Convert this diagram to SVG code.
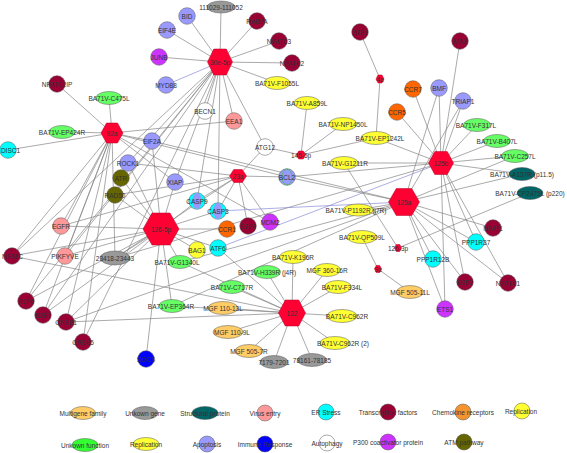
<svg xmlns="http://www.w3.org/2000/svg" width="567" height="453" viewBox="0 0 567 453">
<style>
.e line{stroke:#858585;stroke-width:0.7}
.e line.b{stroke:#8a8ad8}
.hub{fill:#FF0033;stroke:#b30024;stroke-width:0.5}
.c{stroke:#555;stroke-width:0.5}
.dr{fill:#990033}.lav{fill:#9999FF}.mag{fill:#CC33FF}.cy{fill:#00FFFF}.or{fill:#FF6600}.mgf{fill:#FFCC66}.gr{fill:#999999}.gn{fill:#66FF66}.ye{fill:#FFFF33}.tl{fill:#006666}.sa{fill:#FF9999}.bl{fill:#0000FF}.ol{fill:#666600}.wh{fill:#FFFFFF}.co{fill:#F39430}.lg{fill:#33FF33}
text{font-family:"Liberation Sans",Arial,sans-serif;font-size:6.5px;fill:#333;text-anchor:middle;dominant-baseline:central}
</style>
<rect width="567" height="453" fill="#fff"/>
<g id="connectors" class="e">
<line x1="220" y1="62" x2="187" y2="16"/><line x1="220" y1="62" x2="221" y2="7"/><line x1="220" y1="62" x2="257" y2="21"/><line x1="220" y1="62" x2="279" y2="41"/><line x1="220" y1="62" x2="292" y2="63"/><line x1="220" y1="62" x2="277" y2="83"/><line x1="220" y1="62" x2="167" y2="30"/><line x1="220" y1="62" x2="159" y2="57"/><line class="b" x1="220" y1="62" x2="166" y2="85"/><line x1="220" y1="62" x2="205" y2="111"/><line x1="220" y1="62" x2="234" y2="121"/><line x1="220" y1="62" x2="265" y2="147"/><line x1="220" y1="62" x2="218" y2="211"/><line x1="220" y1="62" x2="197" y2="201"/><line x1="220" y1="62" x2="175" y2="182"/><line x1="220" y1="62" x2="12" y2="256"/><line x1="220" y1="62" x2="65" y2="256"/><line x1="220" y1="62" x2="26" y2="301"/><line x1="220" y1="62" x2="43" y2="315"/><line x1="220" y1="62" x2="83" y2="342"/><line x1="220" y1="62" x2="128" y2="163"/>
<line x1="112" y1="133" x2="62" y2="132"/><line x1="112" y1="133" x2="8" y2="150"/><line x1="112" y1="133" x2="109" y2="98"/><line x1="112" y1="133" x2="57" y2="84"/><line x1="112" y1="133" x2="152" y2="141"/><line x1="112" y1="133" x2="234" y2="121"/><line x1="112" y1="133" x2="12" y2="256"/><line x1="112" y1="133" x2="26" y2="301"/><line x1="112" y1="133" x2="43" y2="315"/><line x1="112" y1="133" x2="66" y2="322"/><line x1="112" y1="133" x2="83" y2="342"/><line x1="112" y1="133" x2="65" y2="256"/><line x1="112" y1="133" x2="61" y2="226"/><line x1="112" y1="133" x2="287" y2="177"/><line x1="112" y1="133" x2="175" y2="182"/><line x1="112" y1="133" x2="270" y2="222"/><line x1="112" y1="133" x2="115" y2="258"/>
<line x1="161" y1="229" x2="61" y2="226"/><line x1="161" y1="229" x2="65" y2="256"/><line x1="161" y1="229" x2="12" y2="256"/><line x1="161" y1="229" x2="115" y2="258"/><line x1="161" y1="229" x2="180" y2="262"/><line x1="161" y1="229" x2="172" y2="306"/><line x1="161" y1="229" x2="146" y2="359"/><line x1="161" y1="229" x2="66" y2="322"/><line x1="161" y1="229" x2="43" y2="315"/><line x1="161" y1="229" x2="26" y2="301"/><line x1="161" y1="229" x2="115" y2="195"/><line x1="161" y1="229" x2="121" y2="178"/><line x1="161" y1="229" x2="128" y2="163"/><line x1="161" y1="229" x2="175" y2="182"/><line x1="161" y1="229" x2="152" y2="141"/><line x1="161" y1="229" x2="197" y2="250"/><line x1="161" y1="229" x2="218" y2="248"/><line x1="161" y1="229" x2="197" y2="201"/><line x1="161" y1="229" x2="227" y2="229"/><line x1="161" y1="229" x2="218" y2="211"/>
<line x1="238" y1="176" x2="265" y2="147"/><line x1="238" y1="176" x2="287" y2="177"/><line x1="238" y1="176" x2="197" y2="201"/><line x1="238" y1="176" x2="218" y2="211"/><line x1="238" y1="176" x2="248" y2="226"/><line x1="238" y1="176" x2="270" y2="222"/><line x1="238" y1="176" x2="128" y2="163"/><line x1="238" y1="176" x2="115" y2="195"/><line x1="238" y1="176" x2="115" y2="258"/><line x1="238" y1="176" x2="61" y2="226"/>
<line x1="301" y1="155" x2="265" y2="147"/><line x1="301" y1="155" x2="307" y2="103"/><line x1="301" y1="155" x2="343" y2="124"/><line x1="301" y1="155" x2="376" y2="138"/>
<line x1="380" y1="79" x2="360" y2="32"/><line x1="380" y1="79" x2="376" y2="138"/>
<line x1="441" y1="163" x2="460" y2="41"/><line x1="441" y1="163" x2="413" y2="89"/><line x1="441" y1="163" x2="397" y2="112"/><line x1="441" y1="163" x2="439" y2="88"/><line x1="441" y1="163" x2="463" y2="101"/><line x1="441" y1="163" x2="477" y2="125"/><line x1="441" y1="163" x2="497" y2="141"/><line x1="441" y1="163" x2="515" y2="156"/><line x1="441" y1="163" x2="522" y2="174"/><line x1="441" y1="163" x2="376" y2="138"/><line x1="441" y1="163" x2="344" y2="163"/><line x1="441" y1="163" x2="287" y2="177"/><line x1="441" y1="163" x2="445" y2="309"/><line x1="441" y1="163" x2="465" y2="282"/><line x1="441" y1="163" x2="508" y2="283"/><line x1="441" y1="163" x2="476" y2="242"/><line class="b" x1="441" y1="163" x2="218" y2="248"/><line x1="441" y1="163" x2="115" y2="258"/>
<line x1="404" y1="202" x2="439" y2="88"/><line x1="404" y1="202" x2="463" y2="101"/><line x1="404" y1="202" x2="433" y2="259"/><line x1="404" y1="202" x2="445" y2="309"/><line x1="404" y1="202" x2="465" y2="282"/><line x1="404" y1="202" x2="508" y2="283"/><line x1="404" y1="202" x2="493" y2="228"/><line x1="404" y1="202" x2="358" y2="210"/><line x1="404" y1="202" x2="515" y2="156"/><line x1="404" y1="202" x2="522" y2="174"/><line x1="404" y1="202" x2="152" y2="141"/><line x1="404" y1="202" x2="287" y2="177"/><line x1="404" y1="202" x2="66" y2="322"/><line x1="404" y1="202" x2="180" y2="262"/><line x1="404" y1="202" x2="172" y2="306"/><line x1="404" y1="202" x2="476" y2="242"/><line class="b" x1="404" y1="202" x2="218" y2="211"/>
<line x1="398" y1="248" x2="344" y2="163"/><line x1="398" y1="248" x2="530" y2="193"/>
<line x1="378" y1="269" x2="362" y2="237"/><line x1="378" y1="269" x2="410" y2="292"/>
<line x1="292" y1="313" x2="293" y2="257"/><line x1="292" y1="313" x2="267" y2="272"/><line x1="292" y1="313" x2="327" y2="270"/><line x1="292" y1="313" x2="232" y2="287"/><line x1="292" y1="313" x2="338" y2="287"/><line x1="292" y1="313" x2="223" y2="308"/><line x1="292" y1="313" x2="342" y2="316"/><line x1="292" y1="313" x2="228" y2="332"/><line x1="292" y1="313" x2="335" y2="343"/><line x1="292" y1="313" x2="249" y2="351"/><line x1="292" y1="313" x2="274" y2="362"/><line x1="292" y1="313" x2="312" y2="360"/><line x1="292" y1="313" x2="12" y2="256"/><line x1="292" y1="313" x2="66" y2="322"/><line x1="292" y1="313" x2="172" y2="306"/><line x1="292" y1="313" x2="180" y2="262"/><line x1="292" y1="313" x2="218" y2="248"/>
</g>
<g id="hubs">
<g id="n-30e-5p"><polygon class="hub" points="207.5,62 213.75,49 226.25,49 232.5,62 226.25,75 213.75,75"/><text x="220" y="62">30e-5p</text></g>
<g id="n-92a"><polygon class="hub" points="101,133 106.5,123 117.5,123 123,133 117.5,143 106.5,143"/><text x="112" y="133">92a</text></g>
<g id="n-126-5p"><polygon class="hub" points="143,229 152,213 170,213 179,229 170,245 152,245"/><text x="161" y="229">126-5p</text></g>
<g id="n-23a"><polygon class="hub" points="229.5,176 233.75,169.5 242.25,169.5 246.5,176 242.25,182.5 233.75,182.5"/><text x="238" y="176">23a</text></g>
<g id="n-145-5p"><polygon class="hub" points="296.5,155 298.75,151 303.25,151 305.5,155 303.25,159 298.75,159"/><text x="301" y="155">145-5p</text></g>
<g id="n-4a"><polygon class="hub" points="376,79 378,75 382,75 384,79 382,83 378,83"/><text x="380" y="79">4a</text></g>
<g id="n-125b"><polygon class="hub" points="428.5,163 434.75,151.5 447.25,151.5 453.5,163 447.25,174.5 434.75,174.5"/><text x="441" y="163">125b</text></g>
<g id="n-125a"><polygon class="hub" points="388.5,202 396.25,188.5 411.75,188.5 419.5,202 411.75,215.5 396.25,215.5"/><text x="404" y="202">125a</text></g>
<g id="n-126-3p"><polygon class="hub" points="394.5,248 396.25,244.5 399.75,244.5 401.5,248 399.75,251.5 396.25,251.5"/><text x="398" y="248">126-3p</text></g>
<g id="n-9a"><polygon class="hub" points="374.5,269 376.25,265.5 379.75,265.5 381.5,269 379.75,272.5 376.25,272.5"/><text x="378" y="269">9a</text></g>
<g id="n-122"><polygon class="hub" points="278.5,313 285.25,300 298.75,300 305.5,313 298.75,326 285.25,326"/><text x="292" y="313">122</text></g>
</g>
<g id="genes">
<g id="n-BID"><circle class="c lav" cx="187" cy="16" r="8.3"/><text x="187" y="16">BID</text></g>
<g id="n-EIF4E"><circle class="c lav" cx="167" cy="30" r="8.3"/><text x="167" y="30">EIF4E</text></g>
<g id="n-JUNB"><circle class="c mag" cx="159" cy="57" r="8.3"/><text x="159" y="57">JUNB</text></g>
<g id="n-MYD88"><circle class="c lav" cx="166" cy="85" r="8.3"/><text x="166" y="85">MYD88</text></g>
<g id="n-NFATC2IP"><circle class="c dr" cx="57" cy="84" r="8.3"/><text x="57" y="84">NFATC2IP</text></g>
<g id="n-RAB7A"><circle class="c dr" cx="257" cy="21" r="8.3"/><text x="257" y="21">RAB7A</text></g>
<g id="n-NFATC3"><circle class="c dr" cx="279" cy="41" r="8.3"/><text x="279" y="41">NFATC3</text></g>
<g id="n-NFATC2"><circle class="c dr" cx="292" cy="63" r="8.3"/><text x="292" y="63">NFATC2</text></g>
<g id="n-ATF2"><circle class="c dr" cx="360" cy="32" r="8.3"/><text x="360" y="32">ATF2</text></g>
<g id="n-MAX"><circle class="c dr" cx="460" cy="41" r="8.3"/><text x="460" y="41">MAX</text></g>
<g id="n-CCR7"><circle class="c or" cx="413" cy="89" r="8.3"/><text x="413" y="89">CCR7</text></g>
<g id="n-BMF"><circle class="c lav" cx="439" cy="88" r="8.3"/><text x="439" y="88">BMF</text></g>
<g id="n-TRIAP1"><circle class="c lav" cx="463" cy="101" r="8.3"/><text x="463" y="101">TRIAP1</text></g>
<g id="n-CCR5"><circle class="c or" cx="397" cy="112" r="8.3"/><text x="397" y="112">CCR5</text></g>
<g id="n-BECN1"><circle class="c wh" cx="205" cy="111" r="8.3"/><text x="205" y="111">BECN1</text></g>
<g id="n-EEA1"><circle class="c sa" cx="234" cy="121" r="8.3"/><text x="234" y="121">EEA1</text></g>
<g id="n-ATG12"><circle class="c wh" cx="265" cy="147" r="8.3"/><text x="265" y="147">ATG12</text></g>
<g id="n-BCL2"><circle class="c lav" cx="287" cy="177" r="8.3"/><ellipse cx="287" cy="177" rx="5" ry="8" fill="none" stroke="#33cc33" stroke-width="0.7"/><text x="287" y="177">BCL2</text></g>
<g id="n-DISC1"><circle class="c cy" cx="8" cy="150" r="8.3"/><text x="10.5" y="150">DISC1</text></g>
<g id="n-EIF2A"><circle class="c lav" cx="152" cy="141" r="8.3"/><text x="152" y="141">EIF2A</text></g>
<g id="n-ROCK1"><circle class="c lav" cx="128" cy="163" r="8.3"/><text x="128" y="163">ROCK1</text></g>
<g id="n-ATR"><circle class="c ol" cx="121" cy="178" r="8.3"/><text x="121" y="178">ATR</text></g>
<g id="n-RAD50"><circle class="c ol" cx="115" cy="195" r="8.3"/><text x="115" y="195">RAD50</text></g>
<g id="n-XIAP"><circle class="c lav" cx="175" cy="182" r="8.3"/><text x="175" y="182">XIAP</text></g>
<g id="n-CASP9"><circle class="c cy" cx="197" cy="201" r="8.3"/><ellipse class="lav" cx="197" cy="201" rx="4.5" ry="8"/><text x="197" y="201">CASP9</text></g>
<g id="n-CASP3"><circle class="c cy" cx="218" cy="211" r="8.3"/><ellipse class="lav" cx="218" cy="211" rx="4.5" ry="8"/><text x="218" y="211">CASP3</text></g>
<g id="n-EGFR"><circle class="c sa" cx="61" cy="226" r="8.3"/><text x="61" y="226">EGFR</text></g>
<g id="n-CCR1"><circle class="c or" cx="227" cy="229" r="8.3"/><text x="227" y="229">CCR1</text></g>
<g id="n-E2F8"><circle class="c dr" cx="248" cy="226" r="8.3"/><text x="248" y="226">E2F8</text></g>
<g id="n-MDM2"><circle class="c mag" cx="270" cy="222" r="8.3"/><text x="270" y="222">MDM2</text></g>
<g id="n-BAG1"><circle class="c ye" cx="197" cy="250" r="8.3"/><text x="197" y="250">BAG1</text></g>
<g id="n-ATF6"><circle class="c cy" cx="218" cy="248" r="8.3"/><text x="218" y="248">ATF6</text></g>
<g id="n-NFATC"><circle class="c dr" cx="12" cy="256" r="8.3"/><text x="12.5" y="256">NFATC</text></g>
<g id="n-PIKFYVE"><circle class="c sa" cx="65" cy="256" r="8.3"/><text x="65" y="256">PIKFYVE</text></g>
<g id="n-E2F6"><circle class="c dr" cx="26" cy="301" r="8.3"/><text x="26" y="301">E2F6</text></g>
<g id="n-E2F7"><circle class="c dr" cx="43" cy="315" r="8.3"/><text x="43" y="315">E2F7</text></g>
<g id="n-CREB1"><circle class="c dr" cx="66" cy="322" r="8.3"/><text x="66" y="322">CREB1</text></g>
<g id="n-CREB5"><circle class="c dr" cx="83" cy="342" r="8.3"/><text x="83" y="342">CREB5</text></g>
<g id="n-SOCS"><circle class="c bl" cx="146" cy="359" r="8.3"/><text x="146" y="359">SOCS</text></g>
<g id="n-NFAT1"><circle class="c dr" cx="493" cy="228" r="8.3"/><text x="493" y="228">NFAT1</text></g>
<g id="n-PPP1R37"><circle class="c cy" cx="476" cy="242" r="8.3"/><text x="476" y="242">PPP1R37</text></g>
<g id="n-PPP1R12B"><circle class="c cy" cx="433" cy="259" r="8.3"/><text x="433" y="259">PPP1R12B</text></g>
<g id="n-E2F2"><circle class="c dr" cx="465" cy="282" r="8.3"/><text x="465" y="282">E2F2</text></g>
<g id="n-NFATC1"><circle class="c dr" cx="508" cy="283" r="8.3"/><text x="508" y="283">NFATC1</text></g>
<g id="n-ETS1"><circle class="c mag" cx="445" cy="309" r="8.3"/><text x="445" y="309">ETS1</text></g>
</g>
<g id="viral">
<g id="n-111029"><ellipse class="c gr" cx="221" cy="7" rx="14" ry="6"/><text x="221" y="7">111029-111052</text></g>
<g id="n-C475L"><ellipse class="c gn" cx="109" cy="98" rx="13" ry="6.5"/><text x="109" y="98">BA71V-C475L</text></g>
<g id="n-F1055L"><ellipse class="c ye" cx="277" cy="83" rx="13" ry="6.5"/><text x="277" y="83">BA71V-F1055L</text></g>
<g id="n-A859L"><ellipse class="c ye" cx="307" cy="103" rx="13" ry="6.5"/><text x="307" y="103">BA71V-A859L</text></g>
<g id="n-EP424R"><ellipse class="c gn" cx="62" cy="132" rx="13" ry="6.5"/><text x="62" y="132">BA71V-EP424R</text></g>
<g id="n-NP1450L"><ellipse class="c ye" cx="343" cy="124" rx="14" ry="6.5"/><text x="343" y="124">BA71V-NP1450L</text></g>
<g id="n-EP1242L"><ellipse class="c ye" cx="376" cy="138" rx="15" ry="6.5"/><text x="380" y="138">BA71V-EP1242L</text></g>
<g id="n-G1211R"><ellipse class="c ye" cx="344" cy="163" rx="14" ry="6.5"/><text x="345" y="163">BA71V-G1211R</text></g>
<g id="n-F317L"><ellipse class="c gn" cx="477" cy="125" rx="13.5" ry="6.5"/><text x="476" y="125">BA71V-F317L</text></g>
<g id="n-B407L"><ellipse class="c gn" cx="497" cy="141" rx="13.5" ry="6.5"/><text x="497" y="141">BA71V-B407L</text></g>
<g id="n-C257L"><ellipse class="c gn" cx="515" cy="156" rx="13.5" ry="6.5"/><text x="515" y="156">BA71V-C257L</text></g>
<g id="n-A137R"><ellipse class="c tl" cx="522" cy="174" rx="13" ry="6.5"/><text x="522" y="174">BA71V-A137R (p11.5)</text></g>
<g id="n-CP2475L"><ellipse class="c tl" cx="530" cy="193" rx="13" ry="6.5"/><text x="530" y="193">BA71V-CP2475L (p220)</text></g>
<g id="n-P1192R"><ellipse class="c ye" cx="358" cy="210" rx="15" ry="6"/><text x="356" y="210">BA71V-P1192R (j7R)</text></g>
<g id="n-QP509L"><ellipse class="c ye" cx="362" cy="237" rx="15" ry="6.5"/><text x="362" y="237">BA71V-QP509L</text></g>
<g id="n-MGF505-11L"><ellipse class="c mgf" cx="410" cy="292" rx="13.5" ry="6.5"/><text x="410" y="292">MGF 505-11L</text></g>
<g id="n-G1340L"><ellipse class="c gn" cx="180" cy="262" rx="12" ry="6.5"/><text x="177" y="262">BA71V-G1340L</text></g>
<g id="n-EP364R"><ellipse class="c gn" cx="172" cy="306" rx="13" ry="6.5"/><text x="171" y="306">BA71V-EP364R</text></g>
<g id="n-23418"><ellipse class="c gr" cx="115" cy="258" rx="15" ry="7"/><text x="115" y="258">23418-23443</text></g>
<g id="n-K196R"><ellipse class="c ye" cx="293" cy="257" rx="13.5" ry="6.5"/><text x="293" y="257">BA71V-K196R</text></g>
<g id="n-H339R"><ellipse class="c gn" cx="267" cy="272" rx="13.5" ry="6.5"/><text x="267" y="272">BA71V-H339R (j4R)</text></g>
<g id="n-MGF360-16R"><ellipse class="c ye" cx="327" cy="270" rx="13.5" ry="6.5"/><text x="327" y="270">MGF 360-16R</text></g>
<g id="n-C717R"><ellipse class="c gn" cx="232" cy="287" rx="13" ry="6.5"/><text x="232" y="287">BA71V-C717R</text></g>
<g id="n-F334L"><ellipse class="c ye" cx="338" cy="287" rx="13.5" ry="6.5"/><text x="342" y="287">BA71V-F334L</text></g>
<g id="n-MGF110-13L"><ellipse class="c mgf" cx="223" cy="308" rx="15" ry="6.5"/><text x="223" y="308">MGF 110-13L</text></g>
<g id="n-C962R"><ellipse class="c ye" cx="342" cy="316" rx="15" ry="6.5"/><text x="347" y="316">BA71V-C962R</text></g>
<g id="n-MGF110-9L"><ellipse class="c mgf" cx="228" cy="332" rx="15" ry="6.5"/><text x="232" y="332">MGF 110-9L</text></g>
<g id="n-C962R2"><ellipse class="c ye" cx="335" cy="343" rx="15" ry="6.5"/><text x="343" y="343">BA71V-C962R (2)</text></g>
<g id="n-MGF505-7R"><ellipse class="c mgf" cx="249" cy="351" rx="14" ry="6.5"/><text x="249" y="351">MGF 505-7R</text></g>
<g id="n-7179"><ellipse class="c gr" cx="274" cy="362" rx="14" ry="6.5"/><text x="274" y="362">7179-7201</text></g>
<g id="n-78161"><ellipse class="c gr" cx="312" cy="360" rx="14.5" ry="6.5"/><text x="312" y="360">78161-78185</text></g>
</g>
<g id="legend">
<ellipse class="c mgf" cx="83" cy="413" rx="12.5" ry="6.5"/><text x="83" y="413">Multigene family</text>
<ellipse class="c gr" cx="145" cy="413" rx="13" ry="6.5"/><text x="145" y="413">Unkown gene</text>
<ellipse class="c tl" cx="205" cy="413" rx="13" ry="6.5"/><text x="205" y="413">Structural protein</text>
<circle class="c sa" cx="265" cy="413" r="8"/><text x="265" y="413">Virus entry</text>
<circle class="c cy" cx="326" cy="412" r="8"/><text x="326" y="412">ER Stress</text>
<circle class="c dr" cx="388" cy="412" r="8"/><text x="388" y="412">Transcription factors</text>
<circle class="c co" cx="463" cy="412" r="8"/><text x="463" y="412">Chemokine receptors</text>
<circle class="c ye" cx="522" cy="411" r="8"/><text x="521" y="411">Replication</text>
<ellipse class="c lg" cx="85" cy="445" rx="13" ry="6.5"/><text x="85" y="445">Unkown function</text>
<ellipse class="c ye" cx="146" cy="444" rx="13" ry="6.5"/><text x="146" y="444">Replication</text>
<circle class="c lav" cx="207" cy="444" r="8"/><text x="207" y="444">Apoptosis</text>
<circle class="c bl" cx="265" cy="444" r="8"/><text x="265" y="444">Immune Response</text>
<circle class="c wh" cx="327" cy="443" r="8"/><text x="327" y="443">Autophagy</text>
<circle class="c mag" cx="388" cy="442" r="8"/><text x="388" y="442">P300 coactivator protein</text>
<circle class="c ol" cx="464" cy="442" r="8"/><text x="464" y="442">ATM pathway</text>
</g>
</svg>
